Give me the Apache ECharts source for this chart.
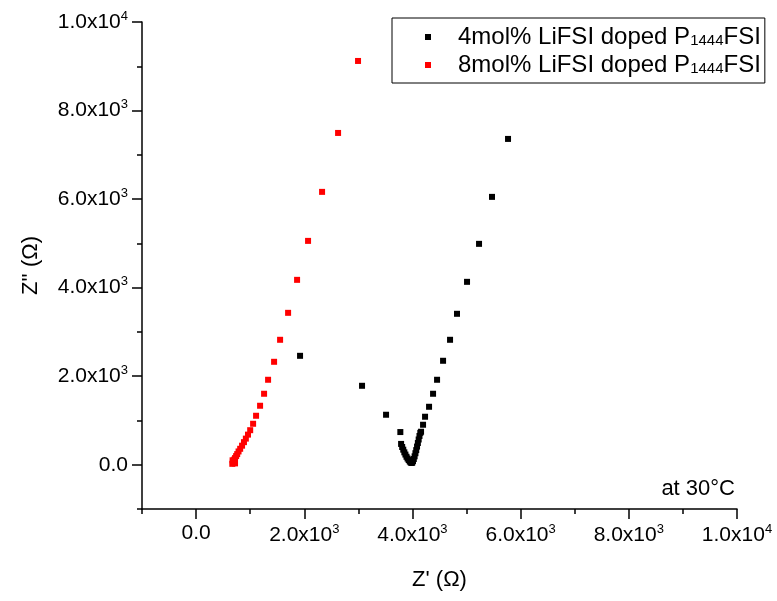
<!DOCTYPE html>
<html>
<head>
<meta charset="utf-8">
<script src="https://cdn.jsdelivr.net/npm/echarts@6/dist/echarts.min.js"></script>
<style>
  html, body { margin: 0; padding: 0; background: #fff; }
  #chart { width: 777px; height: 601px; }
</style>
</head>
<body>
<div id="chart"></div>
<script>
// series names
const seriesNames = ['4mol% LiFSI doped P1444FSI', '8mol% LiFSI doped P1444FSI']

// 4mol% sample: Z' and Z'' (ohm)
const zReal4 = [1922, 3068, 3512, 3776, 3790, 3810, 3830, 3850, 3870, 3890, 3910, 3930, 3950, 3965, 3980,
  3995, 4010, 4025, 4040, 4055, 4070, 4085, 4100, 4115, 4130, 4145, 4159, 4196, 4233, 4307, 4381, 4455,
  4566, 4695, 4824, 5009, 5231, 5471, 5767]
const zImag4 = [2460, 1783, 1129, 738, 470, 400, 340, 280, 230, 180, 140, 105, 75, 55, 40,
  45, 80, 130, 190, 260, 330, 410, 490, 570, 650, 720, 745, 903, 1084, 1309, 1603, 1919,
  2348, 2822, 3409, 4131, 4989, 6050, 7359]

// 8mol% sample
const zReal8 = [2994, 2625, 2329, 2070, 1867, 1701, 1553, 1442, 1331, 1257, 1183, 1109, 1054, 1000, 960,
  920, 885, 850, 815, 785, 760, 740, 720, 705, 690, 680, 670, 675, 690, 705, 720]
const zImag8 = [9120, 7494, 6163, 5056, 4176, 3431, 2822, 2325, 1919, 1603, 1332, 1106, 925, 780, 680,
  590, 510, 430, 360, 300, 240, 195, 150, 115, 80, 50, 20, 100, 40, 70, 30]

// axis ticks
const majorTicks = [0, 2000, 4000, 6000, 8000, 10000]
const minorTicks = [-1000, 1000, 3000, 5000, 7000, 9000]

const FONT = 'Liberation Sans, Arial, sans-serif'

const pairs = (xs, ys) => xs.map((x, i) => [x, ys[i]])

const tickFormatter = (v) => {
  if (v === 0) return '{m|0.0}'
  if (v >= 10000) return '{m|' + (v / 10000).toFixed(1) + 'x10}{s|4}'
  return '{m|' + (v / 1000).toFixed(1) + 'x10}{s|3}'
}

const tickRich = {
  m: { fontSize: 21, fontFamily: FONT, color: '#000' },
  s: { fontSize: 13, fontFamily: FONT, color: '#000', padding: [0, 0, 12, 0] }
}

const lineStyle = { color: '#000', width: 1.5 }

const mainAxis = (extra) => Object.assign({
  type: 'value',
  min: -1000,
  max: 10000,
  splitLine: { show: false },
  axisLine: { show: true, onZero: false, lineStyle },
  axisTick: { show: true, inside: false, length: 10, lineStyle, customValues: majorTicks },
  axisLabel: { show: true, formatter: tickFormatter, rich: tickRich, customValues: majorTicks },
  nameTextStyle: { fontSize: 22, fontFamily: FONT, color: '#000' }
}, extra)

const minorAxis = (extra) => Object.assign({
  type: 'value',
  min: -1000,
  max: 10000,
  splitLine: { show: false },
  axisLine: { show: false, onZero: false },
  axisTick: { show: true, inside: false, length: 5, lineStyle, customValues: minorTicks },
  axisLabel: { show: false }
}, extra)

const chart = echarts.init(document.getElementById('chart'))

chart.setOption({
  animation: false,
  backgroundColor: '#fff',
  textStyle: { fontFamily: FONT, color: '#000' },
  grid: { left: 142, right: 40, top: 22, bottom: 92, containLabel: false },
  legend: {
    orient: 'vertical',
    left: 392,
    top: 18,
    padding: [7, 4, 6, 33],
    itemGap: 4,
    icon: 'rect',
    itemWidth: 6,
    itemHeight: 6,
    borderColor: '#000',
    borderWidth: 1,
    data: seriesNames,
    formatter: (name) => {
      const i = name.indexOf('1444')
      return '{f|' + name.slice(0, i) + '}{s|1444}{t|' + name.slice(i + 4) + '}'
    },
    textStyle: {
      rich: {
        f: { fontSize: 24, fontFamily: FONT, color: '#000', padding: [0, 0, 0, 22] },
        s: { fontSize: 15, fontFamily: FONT, color: '#000', padding: [7, 0, 0, 0] },
        t: { fontSize: 24, fontFamily: FONT, color: '#000' }
      }
    }
  },
  xAxis: [
    mainAxis({
      position: 'bottom',
      name: "Z' (Ω)",
      nameLocation: 'middle',
      nameGap: 60,
      axisLabel: { show: true, formatter: tickFormatter, rich: tickRich, margin: 14, customValues: majorTicks }
    }),
    minorAxis({ position: 'bottom' })
  ],
  yAxis: [
    mainAxis({
      position: 'left',
      name: "Z'' (Ω)",
      nameLocation: 'middle',
      nameGap: 100,
      axisLabel: { show: true, formatter: tickFormatter, rich: tickRich, margin: 14, align: 'right', customValues: majorTicks }
    }),
    minorAxis({ position: 'left' })
  ],
  graphic: [{
    type: 'text',
    right: 42,
    top: 478,
    style: { text: 'at 30°C', font: '22px ' + FONT, fill: '#000' }
  }],
  series: [
    {
      name: seriesNames[0],
      type: 'scatter',
      xAxisIndex: 0,
      yAxisIndex: 0,
      symbol: 'rect',
      symbolSize: 6,
      itemStyle: { color: '#000', opacity: 1 },
      data: pairs(zReal4, zImag4)
    },
    {
      name: seriesNames[1],
      type: 'scatter',
      xAxisIndex: 0,
      yAxisIndex: 0,
      symbol: 'rect',
      symbolSize: 6,
      itemStyle: { color: '#ff0000', opacity: 1 },
      data: pairs(zReal8, zImag8)
    }
  ]
})
</script>
</body>
</html>
